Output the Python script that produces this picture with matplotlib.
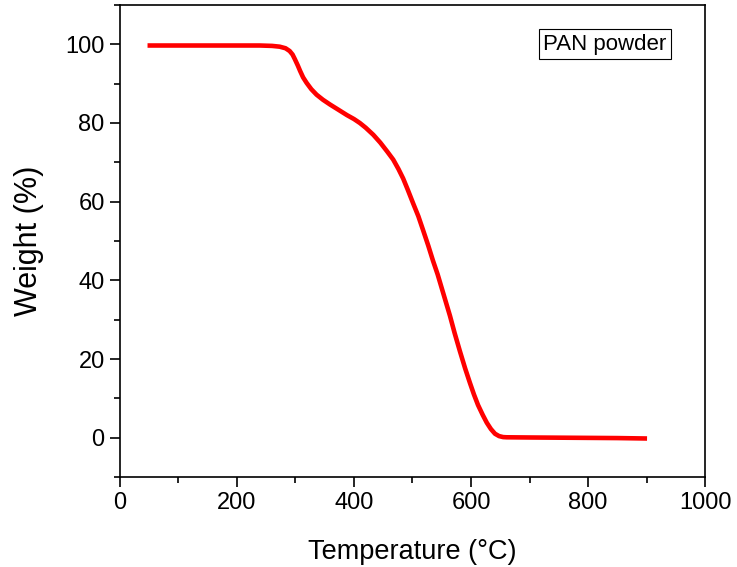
import matplotlib
matplotlib.use("Agg")
import matplotlib.pyplot as plt
from matplotlib.ticker import MultipleLocator

plt.rcParams['font.family'] = ['Liberation Sans', 'DejaVu Sans']

temperature = [51, 100, 150, 200, 239, 260, 273, 283, 290, 295, 299, 304, 308, 313, 319, 327,
               336, 347, 359, 373, 388, 400, 410, 420, 433, 445, 457, 467, 476, 484, 492, 501,
               510, 518, 527, 535, 543, 550, 557, 564, 572, 581, 590, 598, 605, 612, 620,
               627, 634, 641, 648, 655, 661, 700, 750, 800, 850, 897]
weight = [99.7, 99.7, 99.7, 99.7, 99.7, 99.6, 99.4, 99.0, 98.3, 97.4, 96.2, 94.6, 93.2, 91.6, 90.2, 88.6,
          87.2, 85.9, 84.7, 83.4, 82.0, 81.0, 80.0, 78.8, 77.0, 75.0, 72.7, 70.7, 68.3, 65.9, 63.0, 59.6,
          56.3, 52.8, 48.8, 45.0, 41.5, 38.0, 34.5, 31.0, 26.6, 22.0, 17.6, 14.0, 11.0, 8.3, 5.8,
          3.8, 2.2, 1.0, 0.4, 0.15, 0.1, 0.05, 0.0, -0.05, -0.1, -0.2]

fig = plt.figure(figsize=(7.37, 5.67), dpi=100)
ax = fig.add_axes([0.1628, 0.1587, 0.7938, 0.8325])
ax.plot(temperature, weight, color='#ff0000', lw=3.3, solid_joinstyle='round')
ax.set_xlim(0, 1000)
ax.set_ylim(-10, 110)
ax.xaxis.set_major_locator(MultipleLocator(200))
ax.xaxis.set_minor_locator(MultipleLocator(100))
ax.yaxis.set_major_locator(MultipleLocator(20))
ax.yaxis.set_minor_locator(MultipleLocator(10))
ax.tick_params(which='both', direction='out', top=False, right=False, labelsize=17, width=1.2, pad=4)
ax.tick_params(which='major', length=7)
ax.tick_params(which='minor', length=4)
for s in ax.spines.values():
    s.set_linewidth(1.2)
ax.set_xlabel('Temperature (°C)', fontsize=19.5, labelpad=18)
ax.set_ylabel('Weight (%)', fontsize=22, labelpad=15)
ax.text(0.829, 0.917, 'PAN powder', transform=ax.transAxes, fontsize=16,
        ha='center', va='center',
        bbox=dict(boxstyle='square,pad=0.2', fc='white', ec='black', lw=0.8))
fig.savefig('out.png', dpi=100)
